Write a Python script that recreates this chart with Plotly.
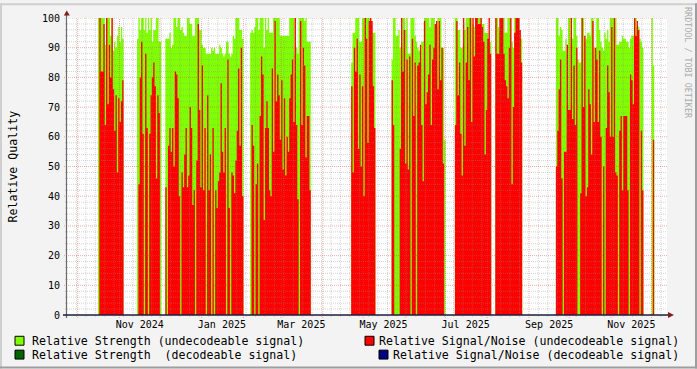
import plotly.graph_objects as go
from datetime import datetime, timedelta

# ---------------- data ----------------
x_start = "2024-09-23"
x_end = "2025-12-12 12:00"

tick_dates = ["2024-11-16", "2025-01-16", "2025-03-16", "2025-05-16",
              "2025-07-16", "2025-09-16", "2025-11-16"]
tick_labels = ["Nov 2024", "Jan 2025", "Mar 2025", "May 2025",
               "Jul 2025", "Sep 2025", "Nov 2025"]
y_ticks = [0, 10, 20, 30, 40, 50, 60, 70, 80, 90, 100]

# daily values, one block per run of data; first date of each block
seg_starts = ["2024-10-16", "2024-11-14", "2024-12-05", "2025-02-06", "2025-04-22",
              "2025-05-22", "2025-07-08", "2025-08-07", "2025-09-21", "2025-12-01"]

strength_1 = [100, 100, 100, 100, 100, 91, 100, 100, 100, 94, 100, 89, 92, 90, 94, 97, 92, 97, 93]
snr_1 = [0, 100, 82, 82, 98, 64, 100, 71, 91, 80, 100, 76, 62, 74, 48, 73, 65, 72, 79]

strength_2 = [93, 100, 96, 100, 100, 96, 100, 95, 100, 96, 100, 92, 96, 96, 100, 100, 92, 92]
snr_2 = [0, 44, 80, 92, 61, 0, 88, 63, 0, 61, 74, 80, 85, 77, 46, 74, 68, 0]

strength_3 = [93, 93, 93, 95, 90, 91, 100, 100, 97, 100, 100, 96, 97, 95, 94, 94, 100, 100,
              98, 98, 94, 94, 100, 100, 100, 96, 96, 91, 90, 90, 88, 88, 88, 88, 90, 89,
              90, 88, 88, 88, 91, 90, 88, 87, 88, 92, 92, 88, 87, 88, 94, 93, 100, 100,
              100, 96, 96, 93]
snr_3 = [43, 0, 57, 63, 55, 63, 50, 82, 81, 73, 40, 0, 48, 43, 54, 63, 43, 47,
         70, 63, 37, 42, 0, 52, 98, 69, 43, 84, 42, 63, 0, 74, 42, 54, 0, 63,
         0, 42, 36, 45, 48, 78, 55, 48, 63, 0, 86, 36, 0, 48, 47, 41, 52, 62,
         83, 57, 90, 40]

strength_4 = [95, 96, 95, 97, 100, 100, 96, 100, 100, 100, 90, 100, 96, 100, 95, 95,
              95, 100, 100, 100, 100, 100, 94, 94, 94, 94, 94, 94, 94, 100, 100, 100,
              100, 88, 90, 88, 100, 100, 100, 100, 99, 100, 92, 92, 92]
snr_4 = [0, 64, 57, 0, 44, 51, 0, 67, 87, 81, 32, 63, 72, 63, 42, 40,
         83, 55, 99, 72, 81, 74, 59, 79, 49, 73, 47, 60, 55, 73, 81, 86,
         65, 100, 64, 39, 0, 99, 64, 90, 84, 53, 67, 67, 42]

strength_5 = [85, 95, 95, 100, 100, 100, 92, 92, 100, 100, 100, 100, 100, 100, 95, 95, 95, 95]
snr_5 = [77, 48, 90, 82, 93, 56, 81, 50, 77, 40, 100, 93, 58, 99, 100, 99, 77, 63]

strength_6 = [86, 100, 100, 94, 94, 96, 90, 90, 100, 100, 96, 100, 88, 88, 100, 100,
              100, 94, 92, 90, 89, 85, 92, 92, 100, 100, 100, 100, 97, 100, 100, 100,
              97, 97, 100, 100, 100, 90, 90, 59]
snr_6 = [79, 64, 0, 0, 0, 0, 56, 100, 82, 96, 51, 86, 49, 87, 0, 93,
         67, 85, 0, 84, 85, 91, 64, 45, 99, 71, 75, 81, 91, 64, 86, 90,
         98, 99, 76, 99, 79, 90, 51, 0]

strength_7 = [100, 100, 96, 96, 90, 90, 98, 96, 100, 100, 100, 100, 100, 98, 97, 100,
              100, 100, 100, 100, 98, 98, 95, 95, 95, 92, 92]
snr_7 = [64, 99, 74, 85, 61, 47, 100, 57, 85, 97, 79, 100, 65, 100, 87, 100,
         100, 98, 98, 100, 97, 92, 54, 69, 93, 100, 88]

strength_8 = [100, 100, 97, 95, 100, 100, 100, 95, 95, 100, 100, 100, 92, 90, 100, 100,
              100, 100, 93, 93]
snr_8 = [100, 88, 88, 100, 100, 100, 88, 79, 77, 73, 90, 100, 44, 70, 95, 100,
         100, 100, 96, 85]

strength_9 = [100, 100, 94, 97, 96, 89, 89, 93, 89, 100, 100, 93, 93, 100, 100, 94,
              86, 85, 85, 100, 100, 92, 93, 95, 95, 94, 100, 100, 90, 89, 100, 100,
              96, 92, 90, 89, 95, 93, 96, 92, 100, 100, 100, 97, 100, 91, 91, 92,
              92, 94, 93, 93, 92, 92, 90, 93, 94, 94, 100, 100, 97, 97, 93, 92, 90]
snr_9 = [50, 62, 76, 86, 46, 0, 55, 55, 91, 69, 69, 100, 66, 84, 64, 90,
         0, 0, 41, 100, 70, 94, 40, 43, 76, 71, 54, 99, 65, 90, 86, 65,
         89, 60, 0, 50, 0, 63, 84, 75, 60, 97, 60, 100, 48, 47, 0, 62,
         67, 42, 67, 67, 67, 42, 0, 81, 79, 71, 100, 94, 99, 96, 0, 62, 42]

strength_10 = [100, 84]
snr_10 = [0, 59]

strength_blocks = [strength_1, strength_2, strength_3, strength_4, strength_5,
                   strength_6, strength_7, strength_8, strength_9, strength_10]
snr_blocks = [snr_1, snr_2, snr_3, snr_4, snr_5, snr_6, snr_7, snr_8, snr_9, snr_10]

# ---------------- geometry helpers (styling only) ----------------
W, H = 697, 369
L, R, T, B = 67, 667, 15, 315


def xp(px):
    return (px - L) / (R - L)


def yp(py):
    return (B - py) / (B - T)


GREEN = "#80FF00"
RED = "#FF0000"
DGREEN = "#006400"
NAVY = "#000080"

fig = go.Figure()


def add_blocks(blocks, color, name):
    # one step-area trace per run of data, so gaps stay empty
    for s, vals in zip(seg_starts, blocks):
        d0 = datetime.fromisoformat(s)
        xs = [d0 + timedelta(days=k) for k in range(len(vals))]
        xs.append(d0 + timedelta(days=len(vals)))
        ys = list(vals) + [vals[-1]]
        fig.add_trace(go.Scatter(x=xs, y=ys, mode="lines", fill="tozeroy", fillcolor=color,
                                 line=dict(width=0, shape="hv"), name=name,
                                 legendgroup=name, showlegend=False, hoverinfo="skip"))


add_blocks(strength_blocks, GREEN, "Relative Strength (undecodeable signal)")
add_blocks(snr_blocks, RED, "Relative Signal/Noise (undecodeable signal)")

shapes = []
# grid (drawn faintly above the data like rrdtool)
minor_col = "rgba(143,143,143,0.38)"
major_col = "rgba(222,70,70,0.45)"
d0 = datetime.fromisoformat(x_start)
d1 = datetime.fromisoformat(x_end)
month_starts = []
d = datetime(2024, 10, 1)
while d < d1:
    month_starts.append(d)
    d = datetime(d.year + (d.month // 12), d.month % 12 + 1, 1)
w = d0 + timedelta(days=7)
while w < d1:
    if w.day != 1:
        shapes.append(dict(type="line", xref="x", yref="paper", x0=w, x1=w,
                           y0=yp(B + 2), y1=1, layer="above",
                           line=dict(color=minor_col, width=1, dash="1px,1px")))
    w += timedelta(days=7)
for m in month_starts:
    shapes.append(dict(type="line", xref="x", yref="paper", x0=m, x1=m,
                       y0=yp(B + 3), y1=1, layer="above",
                       line=dict(color=major_col, width=1, dash="1px,1px")))
for v in range(2, 100, 2):
    if v % 10:
        shapes.append(dict(type="line", xref="paper", yref="y", x0=xp(L - 2), x1=1,
                           y0=v, y1=v, layer="above",
                           line=dict(color=minor_col, width=1, dash="1px,1px")))
for v in y_ticks[1:]:
    shapes.append(dict(type="line", xref="paper", yref="y", x0=xp(L - 3), x1=1,
                       y0=v, y1=v, layer="above",
                       line=dict(color=major_col, width=1, dash="1px,1px")))

# axes lines and arrows
shapes.append(dict(type="line", xref="paper", yref="paper", x0=xp(66.5), x1=xp(66.5),
                   y0=yp(B + 3), y1=yp(11), layer="above",
                   line=dict(color="#6a6a6a", width=1.2)))
shapes.append(dict(type="line", xref="paper", yref="paper", x0=xp(63), x1=xp(669),
                   y0=yp(315), y1=yp(315), layer="above",
                   line=dict(color="#1c1c3c", width=1.5)))
shapes.append(dict(type="path", xref="paper", yref="paper", layer="above",
                   path=f"M {xp(63.8)},{yp(12.5)} L {xp(69.8)},{yp(12.5)} L {xp(66.8)},{yp(7.5)} Z",
                   fillcolor="#7f1f1f", line=dict(width=0)))
shapes.append(dict(type="path", xref="paper", yref="paper", layer="above",
                   path=f"M {xp(668)},{yp(312)} L {xp(668)},{yp(318)} L {xp(674)},{yp(315)} Z",
                   fillcolor="#7f1f1f", line=dict(width=0)))

# outer frame
shapes.append(dict(type="rect", xref="paper", yref="paper", x0=xp(0), x1=xp(W), y0=yp(0), y1=yp(2),
                   fillcolor="#cfcfcf", line=dict(width=0), layer="above"))
shapes.append(dict(type="rect", xref="paper", yref="paper", x0=xp(0), x1=xp(2), y0=yp(0), y1=yp(H),
                   fillcolor="#cfcfcf", line=dict(width=0), layer="above"))
shapes.append(dict(type="rect", xref="paper", yref="paper", x0=xp(0), x1=xp(W), y0=yp(H - 2), y1=yp(H),
                   fillcolor="#9e9e9e", line=dict(width=0), layer="above"))
shapes.append(dict(type="rect", xref="paper", yref="paper", x0=xp(W - 2), x1=xp(W), y0=yp(0), y1=yp(H),
                   fillcolor="#9e9e9e", line=dict(width=0), layer="above"))

# legend boxes
legend_items = [
    (15, 341, GREEN, 30, "left", "Relative Strength (undecodeable signal)"),
    (365, 341, RED, 681, "right", "Relative Signal/Noise (undecodeable signal)"),
    (15, 355, DGREEN, 30, "left", "Relative Strength  (decodeable signal)"),
    (379, 355, NAVY, 681, "right", "Relative Signal/Noise (decodeable signal)"),
]
annotations = []
for bx, cy, col, tx, anc, txt in legend_items:
    shapes.append(dict(type="rect", xref="paper", yref="paper",
                       x0=xp(bx), x1=xp(bx + 9), y0=yp(cy - 4.5), y1=yp(cy + 4.5),
                       fillcolor=col, line=dict(color="#000000", width=1), layer="above"))
    annotations.append(dict(xref="paper", yref="paper", x=xp(tx), y=yp(cy),
                            xanchor=anc, yanchor="middle", showarrow=False,
                            text=txt.replace("  ", "&nbsp;&nbsp;"),
                            font=dict(family="DejaVu Sans Mono", size=11.6, color="#000000")))

annotations.append(dict(xref="paper", yref="paper", x=xp(12), y=yp(165), textangle=-90,
                        showarrow=False, text="Relative Quality", xanchor="center", yanchor="middle",
                        font=dict(family="DejaVu Sans Mono", size=11.6, color="#000000")))
annotations.append(dict(xref="paper", yref="paper", x=xp(688.5), y=yp(60), textangle=90,
                        showarrow=False, text="RRDTOOL / TOBI OETIKER", xanchor="center", yanchor="middle",
                        font=dict(family="DejaVu Sans Mono", size=8.4, color="#ababab")))

fig.update_layout(
    width=W, height=H,
    margin=dict(l=L, r=W - R, t=T, b=H - B, pad=0),
    paper_bgcolor="#f3f3f3", plot_bgcolor="#ffffff",
    showlegend=False,
    shapes=shapes, annotations=annotations,
    xaxis=dict(type="date", range=[x_start, x_end], showgrid=False, zeroline=False,
               showline=False, ticks="", tickmode="array", tickvals=tick_dates,
               ticktext=tick_labels, ticklabelstandoff=2,
               tickfont=dict(family="DejaVu Sans Mono", size=10, color="#000000")),
    yaxis=dict(range=[0, 100], showgrid=False, zeroline=False, showline=False,
               ticks="", tickmode="array", tickvals=y_ticks,
               ticktext=[str(v) for v in y_ticks], ticklabelstandoff=6,
               tickfont=dict(family="DejaVu Sans Mono", size=10, color="#000000")),
)

fig.write_html("out.html")
